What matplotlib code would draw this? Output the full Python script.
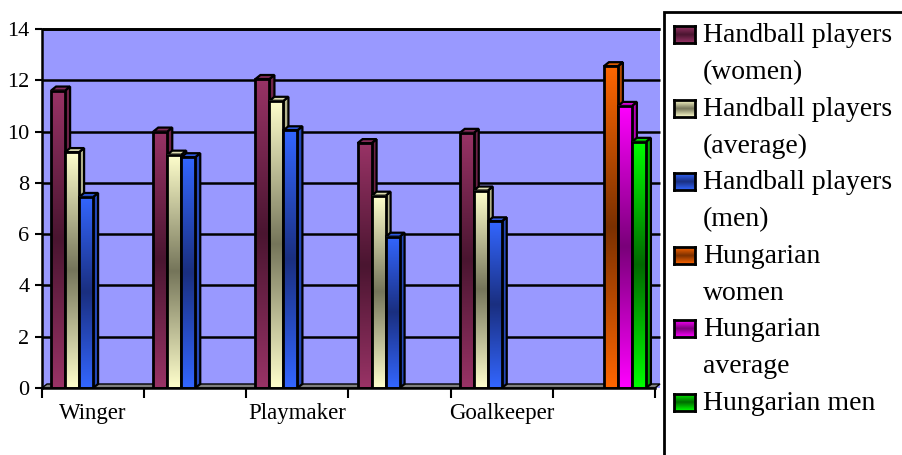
import numpy as np
import matplotlib
matplotlib.use("Agg")
import matplotlib.pyplot as plt
from matplotlib.patches import Rectangle, Polygon
from matplotlib.colors import to_rgb

# ---------------- data ----------------
categories = ["Winger", "", "Playmaker", "", "Goalkeeper", ""]
series_names = [
    ["Handball players", "(women)"],
    ["Handball players", "(average)"],
    ["Handball players", "(men)"],
    ["Hungarian", "women"],
    ["Hungarian", "average"],
    ["Hungarian men"],
]
hb_women = [11.6, 10.0, 12.05, 9.55, 9.95, np.nan]
hb_avg = [9.2, 9.1, 11.2, 7.5, 7.7, np.nan]
hb_men = [7.45, 9.0, 10.05, 5.9, 6.5, np.nan]
hu_women = [np.nan, np.nan, np.nan, np.nan, np.nan, 12.55]
hu_avg = [np.nan, np.nan, np.nan, np.nan, np.nan, 11.0]
hu_men = [np.nan, np.nan, np.nan, np.nan, np.nan, 9.6]
series_values = [hb_women, hb_avg, hb_men, hu_women, hu_avg, hu_men]
y_ticks = [0, 2, 4, 6, 8, 10, 12, 14]

# ---------------- style ----------------
light = ["#993366", "#FFFFCC", "#3366FF", "#FF6600", "#FF00FF", "#00FF00"]
dark = ["#4A1530", "#75755A", "#1A2F80", "#7A3000", "#7A007A", "#006A00"]
wall_color = "#9999FF"
floor_color = "#808080"
FONT = "Liberation Serif"

plt.rcParams["font.family"] = [FONT, "DejaVu Serif"]

W, H = 902, 455
fig = plt.figure(figsize=(W / 100, H / 100), dpi=100)
L, R, T, B = 42, 655, 29, 388
ax = fig.add_axes([L / W, 1 - B / H, (R - L) / W, (B - T) / H])
ncat = len(categories)
ax.set_xlim(-0.5, ncat - 0.5)
ax.set_ylim(0, 14)
ax.set_facecolor("none")

ux = ncat / (R - L)
uy = 14 / (B - T)
dx, dy = 5 * ux, 4 * uy


def grad_img(c_light, c_dark, n=256):
    t = np.abs(np.linspace(-1, 1, n))[:, None]
    a = np.array(to_rgb(c_light))
    b = np.array(to_rgb(c_dark))
    img = b + (a - b) * t
    return img[:, None, :]


def mix(c1, c2, f):
    a = np.array(to_rgb(c1))
    b = np.array(to_rgb(c2))
    return tuple(a * (1 - f) + b * f)


x_lo, x_hi = -0.5, ncat - 0.5
# back wall
ax.add_patch(Rectangle((x_lo, 0), x_hi + dx - x_lo, 14, facecolor=wall_color,
                       edgecolor="none", zorder=0, clip_on=False))
# gridlines
for yv in y_ticks[1:]:
    ax.plot([x_lo, x_hi + dx], [yv, yv], color="black", lw=1.8, zorder=0.5,
            clip_on=False, solid_capstyle="butt")
# floor
ax.add_patch(Polygon([(x_lo, 0), (x_hi, 0), (x_hi + dx, dy), (x_lo + dx, dy)],
                     closed=True, facecolor=floor_color, edgecolor="black",
                     lw=1.0, zorder=1, clip_on=False))

# bars
nser = len(series_values)
gap = 1.3
bw = 1.0 / (nser + gap)
off = gap / 2 * bw
for j, vals in enumerate(series_values):
    img = grad_img(light[j], dark[j])
    side_c = mix(light[j], dark[j], 0.55)
    top_c = mix(light[j], dark[j], 0.25)
    for i, v in enumerate(vals):
        if np.isnan(v):
            continue
        x0 = i - 0.5 + off + j * bw
        z = 2 + j * 0.1
        ax.add_patch(Polygon([(x0 + bw, 0), (x0 + bw + dx, dy), (x0 + bw + dx, v + dy),
                              (x0 + bw, v)], closed=True, facecolor=side_c,
                             edgecolor="black", lw=1.6, zorder=z, clip_on=False))
        ax.add_patch(Polygon([(x0, v), (x0 + bw, v), (x0 + bw + dx, v + dy),
                              (x0 + dx, v + dy)], closed=True, facecolor=top_c,
                             edgecolor="black", lw=1.6, zorder=z + 0.01, clip_on=False))
        ax.imshow(img, extent=[x0, x0 + bw, 0, v], aspect="auto",
                  interpolation="bilinear", zorder=z + 0.02, origin="lower")
        ax.add_patch(Rectangle((x0, 0), bw, v, fill=False, edgecolor="black",
                               lw=2.0, zorder=z + 0.03))

ax.set_xlim(x_lo, x_hi)
ax.set_ylim(0, 14)

# top line of wall
ax.plot([x_lo, x_hi + dx], [14, 14], color="black", lw=2, zorder=0.6,
        clip_on=False, solid_capstyle="butt")

# axes styling
for s in ["top", "right"]:
    ax.spines[s].set_visible(False)
ax.spines["left"].set_linewidth(1.8)
ax.spines["bottom"].set_linewidth(1.8)
ax.spines["left"].set_zorder(5)
ax.spines["bottom"].set_zorder(5)

ax.set_yticks(y_ticks)
ax.set_yticklabels([str(t) for t in y_ticks])
ax.tick_params(axis="y", direction="out", length=5, width=1.5, labelsize=16, pad=4)

ax.set_xticks(np.arange(x_lo, x_hi + 0.01, 1.0))
ax.set_xticklabels([])
ax.set_xticks(np.arange(ncat), minor=True)
ax.set_xticklabels(categories, minor=True)
ax.tick_params(axis="x", which="major", direction="out", length=7, width=1.5)
ax.tick_params(axis="x", which="minor", length=0, labelsize=16.5, pad=11)

# ---------------- legend (manual) ----------------
fig.add_artist(Rectangle((664 / W, -0.1), 0.5, 1 - 12 / H + 0.1, transform=fig.transFigure,
                         facecolor="white", edgecolor="black", lw=2, zorder=0))
step = 73.6
for k, lines in enumerate(series_names):
    top = 26 + step * k
    m_ax = fig.add_axes([674 / W, 1 - (top + 17) / H, 21 / W, 17 / H])
    m_ax.imshow(grad_img(light[k], dark[k], 64), aspect="auto", interpolation="bilinear")
    m_ax.set_xticks([])
    m_ax.set_yticks([])
    for s in m_ax.spines.values():
        s.set_linewidth(2)
    base = 42 + step * k
    for ln_i, ln in enumerate(lines):
        fig.text(703 / W, 1 - (base + 37 * ln_i) / H, ln, fontsize=20,
                 va="baseline", ha="left", color="black")

fig.savefig("out.png", dpi=100)
